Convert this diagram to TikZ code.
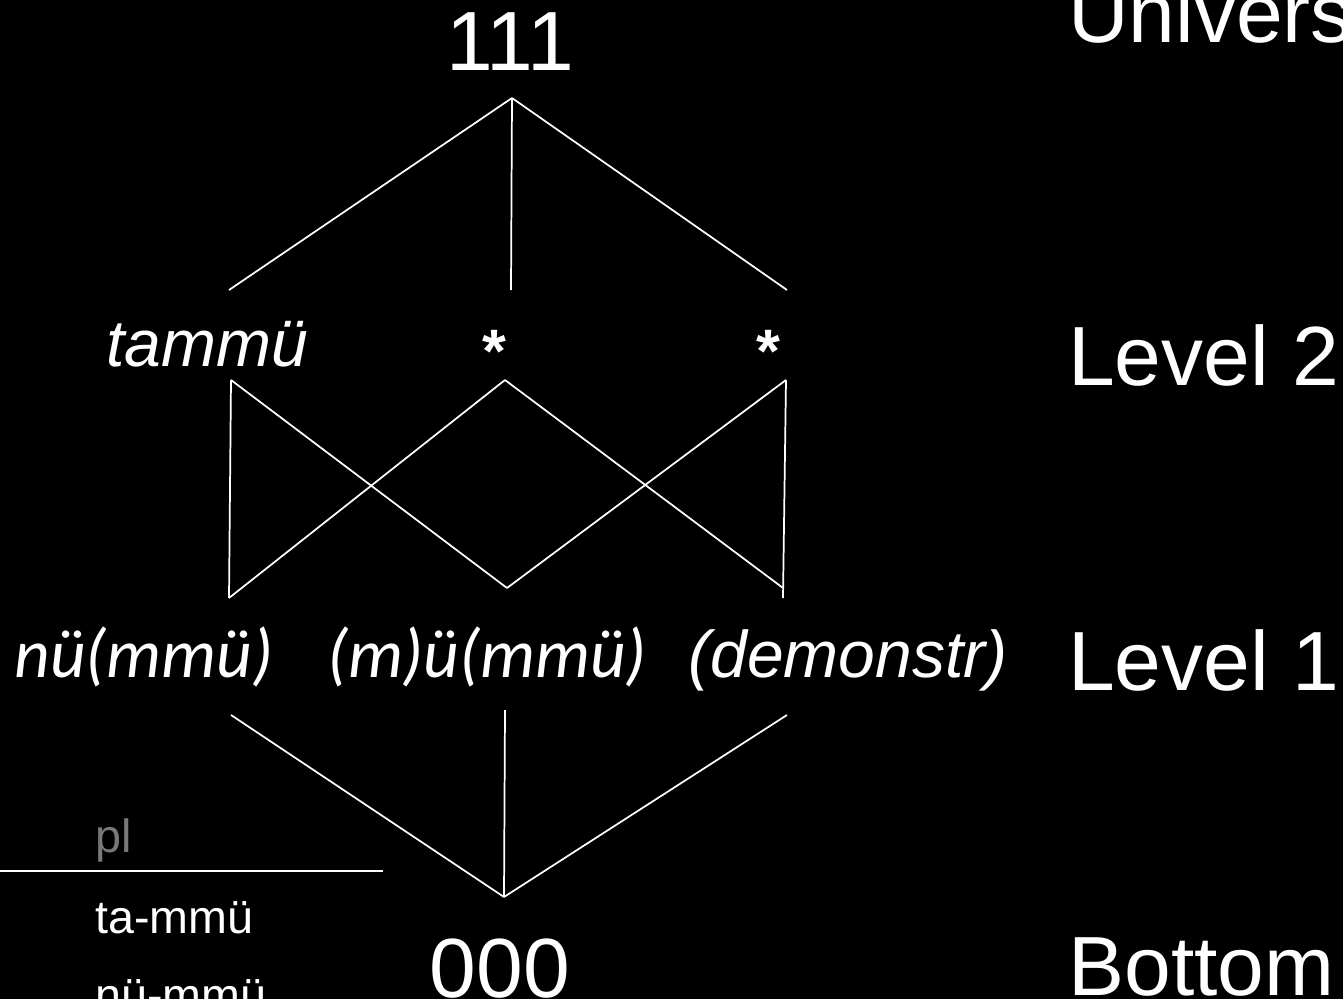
\documentclass[tikz,border=0pt]{standalone}
\usepackage{fontspec}
\setmainfont{Liberation Sans}
\newfontfamily\calib{Carlito}
\begin{document}
\begin{tikzpicture}[x=0.75pt,y=-0.75pt,
  big/.style={text=white,inner sep=0pt,font=\fontsize{63}{70}\selectfont},
  itl/.style={text=white,inner sep=0pt,font=\fontsize{49.5}{56}\selectfont\itshape},
  star/.style={text=white,inner sep=0pt,font=\fontsize{46}{52}\selectfont\bfseries},
  cal/.style={text=white,inner sep=0pt,font=\fontsize{52}{58}\selectfont\calib\itshape},
  small/.style={text=white,inner sep=0pt,font=\fontsize{35}{40}\selectfont},
  edge/.style={draw=white,line width=1.3pt}]
\useasboundingbox (0,0) rectangle (1343,999);
\clip (0,0) rectangle (1343,999);
\fill[black] (0,0) rectangle (1343,999);
% level labels
\node[big,anchor=base west] (univ) at (1068,43) {Universal};
\node[big,anchor=base west] (lev2) at (1068,385) {Level 2};
\node[big,anchor=base west] (lev1) at (1068,690) {Level 1};
\node[big,anchor=base west] (bot) at (1068,995) {Bottom};
% lattice labels
\node[big,anchor=base] (top) at (510,71) {111};
\node[big,anchor=base] (bottom) at (500,997) {000};
\node[itl,anchor=base] (tam) at (207,366) {tammü};
\node[star,anchor=base] (s1) at (494,372) {*};
\node[star,anchor=base] (s2) at (768,372) {*};
\node[cal,anchor=base] (nu) at (144,677) {nü(mmü)};
\node[cal,anchor=base] (mu) at (487,677) {(m)ü(mmü)};
\node[itl,anchor=base] (dem) at (848,677) {(demonstr)};
% table
\node[small,text=white!47!black,anchor=base west] (pl) at (95,852) {pl};
\coordinate (ruleL) at (0,871);
\coordinate (ruleR) at (383,871);
\draw[edge] (ruleL) -- (ruleR);
\node[small,anchor=base west] (ta) at (95,933) {ta-mmü};
\node[small,anchor=base west] (nm) at (95,1011) {nü-mmü};
% connector end points
\coordinate (T) at (512,98);
\coordinate (Ua) at (229,290);
\coordinate (Ub) at (511,290);
\coordinate (Uc) at (787,290);
\coordinate (Ma) at (231,380);
\coordinate (Mb) at (505,380);
\coordinate (Mc) at (786,380);
\coordinate (La) at (229,598);
\coordinate (Lb) at (507,588);
\coordinate (Lc) at (783,588);
\coordinate (Lcv) at (783,598);
\coordinate (Ba) at (231,715);
\coordinate (Bb) at (505,710);
\coordinate (Bc) at (787,715);
\coordinate (B) at (504,897);
% edges
\draw[edge] (T) -- (Ua);
\draw[edge] (T) -- (Ub);
\draw[edge] (T) -- (Uc);
\draw[edge] (Ma) -- (La);
\draw[edge] (Ma) -- (Lb);
\draw[edge] (Mb) -- (La);
\draw[edge] (Mb) -- (Lc);
\draw[edge] (Mc) -- (Lb);
\draw[edge] (Mc) -- (Lcv);
\draw[edge] (Ba) -- (B);
\draw[edge] (Bb) -- (B);
\draw[edge] (Bc) -- (B);
\end{tikzpicture}
\end{document}
